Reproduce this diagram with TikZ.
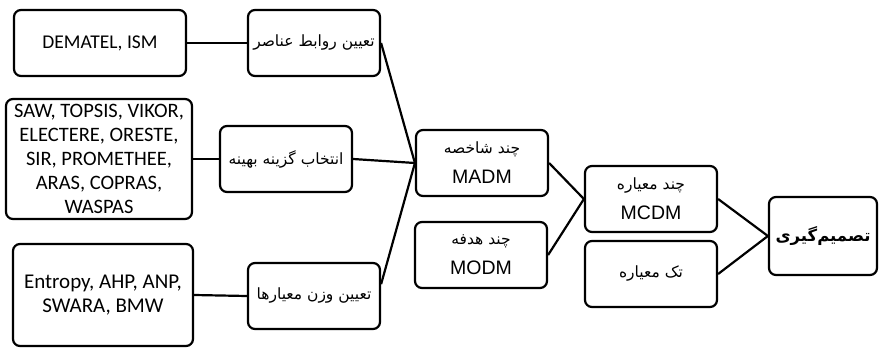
\documentclass[tikz,border=0pt]{standalone}
\usepackage{fontspec}
\setmainfont{Carlito}
\newfontfamily\arialfont{Liberation Sans}
\newfontfamily\farsi[Script=Arabic]{DejaVu Sans}
\TeXXeTstate=1
\usetikzlibrary{positioning}
\newcommand{\fatext}[1]{{\farsi\fontsize{15.5}{18}\selectfont\beginR #1\endR}}
\tikzstyle{box}=[draw,line width=2.2pt,rounded corners=7pt,align=center,inner sep=2pt]
\tikzstyle{method}=[box,font=\fontsize{20.5}{24}\selectfont]
\tikzstyle{task}=[box,minimum width=132pt,minimum height=66pt]
\tikzstyle{kind}=[task,font=\arialfont\fontsize{19.5}{30}\selectfont]
\tikzstyle{edge}=[draw=black,line width=2.2pt,-]

\begin{document}
\begin{tikzpicture}[x=1pt,y=-1pt]
  \useasboundingbox (0,0) rectangle (880,350);

  % methods
  \node[method,minimum width=172pt,minimum height=66pt,font=\fontsize{19.5}{24}\selectfont] (dematel) at (100,43) {DEMATEL, ISM};
  \node[method,minimum width=186pt,minimum height=120pt] (saw) at (99,159)
    {SAW, TOPSIS, VIKOR,\\ ELECTERE, ORESTE,\\ SIR, PROMETHEE,\\ ARAS, COPRAS,\\ WASPAS};
  \node[method,minimum width=180pt,minimum height=102pt,font=\fontsize{21}{24}\selectfont] (entropy) at (103,295)
    {Entropy, AHP, ANP,\\ SWARA, BMW};

  % problems
  \foreach \pos / \name / \txt in {{(314,43)/ravabet/تعیین روابط عناصر},
                                   {(286,159)/entekhab/انتخاب گزینه بهینه},
                                   {(314,296)/vazn/تعیین وزن معیارها},
                                   {(651,274)/tak/تک معیاره}}
    \node[task] (\name) at \pos {\fatext{\txt}};

  \foreach \pos / \name / \txt / \abbr in {{(482,163)/madm/چند شاخصه/MADM},
                                           {(481,255)/modm/چند هدفه/MODM},
                                           {(651,199)/mcdm/چند معیاره/MCDM}}
    \node[kind] (\name) at \pos {\fatext{\txt}\\ \abbr};

  \node[box,minimum width=108pt,minimum height=78pt] (tasmim) at (823,236)
    {\farsi\bfseries\fontsize{16.5}{18}\selectfont\beginR تصمیم‌گیری\endR};

  % connect boxes
  \foreach \source / \dest in {dematel.east/ravabet.west, saw.east/entekhab.west,
                               entropy.east/vazn.west,
                               ravabet.east/madm.west, entekhab.east/madm.west,
                               vazn.10/madm.west,
                               madm.east/mcdm.west, modm.east/mcdm.west,
                               mcdm.east/tasmim.west, tak.east/tasmim.west}
      \path[edge] (\source) -- (\dest);
\end{tikzpicture}
\end{document}
